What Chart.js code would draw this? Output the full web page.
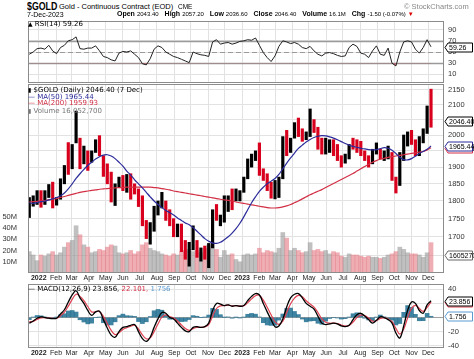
<!DOCTYPE html>
<html>
<head>
<meta charset="utf-8">
<script src="https://cdn.jsdelivr.net/npm/chart.js@4.4.0/dist/chart.umd.min.js"></script>
<style>
html, body { margin: 0; padding: 0; background: #fff; }
body { width: 474px; height: 359px; position: relative; overflow: hidden; font-family: "Liberation Sans", Arial, sans-serif; color: #000; }
canvas { position: absolute; left: 0; }
.t { position: absolute; white-space: nowrap; }
.lg { position: absolute; white-space: nowrap; font: 7px "DejaVu Sans"; line-height: 8px; }
.hd b { font-size: 7px; margin-left: 6px; }
.hd span { font-size: 6px; margin-left: 2px; }
</style>
</head>
<body>
<canvas id="rsi" width="474" height="64" style="top:20px"></canvas>
<canvas id="price" width="474" height="200" style="top:84px"></canvas>
<canvas id="macd" width="474" height="75" style="top:284px"></canvas>

<div class="t" style="left:27px;top:1px;font-weight:bold;font-size:11px;line-height:11px;transform:scaleX(0.8);transform-origin:0 0">$GOLD</div>
<div class="t" style="left:59px;top:3px;font-size:7.5px;line-height:7.5px">Gold - Continuous Contract (EOD)</div>
<div class="t" style="left:178px;top:4px;font-size:6.5px;line-height:6.5px">CME</div>
<div class="t" style="left:404px;top:3px;font-size:7.5px;line-height:7.5px;color:#888">&copy; StockCharts.com</div>
<div class="t" style="left:27px;top:11px;font-size:7px;line-height:7px">7-Dec-2023</div>
<div class="t hd" style="left:111px;top:9px;font-size:8px;line-height:10px"><b>Open</b><span>2043.40</span><b>High</b><span>2057.20</span><b>Low</b><span>2036.60</span><b>Close</b><span>2046.40</span><b>Volume</b><span>16.1M</span><b>Chg</b><span>-1.50 (-0.07%)</span><span style="color:#d00">&#9660;</span></div>

<div class="lg" style="left:28px;top:20px"><b style="font-size:6px">&#9650;</b> RSI(14) 59.26</div>
<div class="lg" style="left:28px;top:86px"><b style="font-size:6px">&#9646;</b> $GOLD (Daily) 2046.40 (7 Dec)</div>
<div class="lg" style="left:28px;top:92.7px;color:#2b2b9a">&#8212; MA(50) 1965.44</div>
<div class="lg" style="left:28px;top:99.3px;color:#d22f45">&#8212; MA(200) 1959.93</div>
<div class="lg" style="left:28px;top:106.7px;color:#777"><b style="font-size:6px">&#9646;</b> Volume 16,052,700</div>
<div class="lg" style="left:28px;top:284.5px">&#8212; MACD(12,26,9) 23.856, <span style="color:#d22f45">22.101,</span> <span style="color:#5a9bd0">1.756</span></div>

<script>
// one bar per week, first week Mon 13-Dec-2021, last week Mon 4-Dec-2023
var firstWeek = Date.UTC(2021, 11, 15);

var highs = [1810,1815,1830,
  1830,1830,1848,1855,1810,1865,1905,1976,1970,2078,
  1990,1965,1950,1950,1985,1998,1935,1910,1885,1850,
  1870,1875,1878,1880,1850,1835,1815,1745,1739,1785,
  1800,1825,1800,1775,1750,1735,1735,1690,1685,1730,
  1690,1670,1675,1682,1775,1790,1760,1815,1815,1835,
  1835,1830,
  1870,1925,1940,1950,1975,1895,1880,1855,1860,1870,
  1995,2015,1990,2040,2055,2020,2010,2085,2050,2025,
  1990,1990,1985,1985,1970,1935,1940,1970,1990,1985,
  1980,1950,1935,1955,1975,1955,1950,1965,1945,1870,
  1945,2000,2010,2015,1985,1995,2020,2095,2152];
var lows = [1753,1785,1790,
  1782,1790,1810,1780,1788,1805,1850,1878,1895,1975,
  1895,1910,1890,1915,1945,1935,1872,1850,1797,1787,
  1840,1830,1825,1805,1820,1784,1730,1695,1680,1715,
  1760,1780,1745,1730,1700,1700,1660,1640,1622,1665,
  1645,1635,1640,1618,1670,1745,1730,1740,1770,1775,
  1800,1800,
  1825,1865,1900,1920,1875,1860,1830,1808,1806,1810,
  1865,1935,1945,1990,1995,1980,1985,1995,2008,1955,
  1940,1940,1945,1935,1920,1900,1912,1925,1955,1945,
  1935,1920,1900,1910,1940,1925,1920,1925,1860,1823,
  1845,1920,1965,1970,1935,1935,1975,2005,2025];
var closes = [1798,1809,1828,
  1797,1817,1832,1791,1807,1842,1899,1889,1966,1985,
  1921,1954,1925,1945,1974,1931,1911,1882,1808,1842,
  1851,1850,1871,1840,1830,1801,1742,1703,1727,1781,
  1791,1815,1761,1749,1721,1728,1678,1655,1672,1700,
  1650,1656,1645,1681,1771,1754,1754,1809,1810,1800,
  1805,1826,
  1869,1921,1928,1930,1876,1875,1842,1818,1855,1868,
  1989,1983,1986,2011,2007,1990,1999,2025,2019,1981,
  1945,1970,1977,1970,1932,1929,1933,1964,1962,1960,
  1942,1923,1915,1945,1953,1942,1945,1945,1866,1845,
  1941,1994,2006,1999,1938,1985,2003,2089,2046.4];
// daily volume, millions (weekly reading)
var volumes = [19,16,11,
  16,15,17,19,16,18,23,27,29,42,
  34,25,23,18,19,21,20,23,25,24,
  18,17,18,20,17,19,25,27,22,20,
  19,17,16,15,17,16,19,20,21,19,
  20,18,22,25,27,21,14,20,16,17,
  12,10,
  16,17,16,17,22,18,20,19,18,22,
  36,31,20,22,20,18,19,27,20,21,
  19,20,17,19,18,15,14,17,16,16,
  15,14,15,14,14,13,14,16,17,19,
  23,21,18,17,17,16,14,18,27];
var ma50 = [1795,1793,1795,
  1798,1800,1803,1806,1810,1815,1823,1835,1850,1866,
  1880,1893,1905,1915,1925,1932,1937,1938,1934,1926,
  1915,1903,1888,1876,1862,1850,1838,1825,1812,1800,
  1790,1781,1773,1767,1760,1752,1745,1738,1733,1725,
  1715,1705,1695,1688,1683,1682,1685,1692,1700,1710,
  1722,1737,1755,1775,1795,1812,1828,1840,1850,1858,
  1866,1878,1895,1912,1928,1943,1958,1968,1978,1986,
  1992,1996,1998,1997,1994,1990,1985,1979,1973,1968,
  1964,1961,1958,1956,1954,1953,1954,1957,1960,1958,
  1952,1942,1930,1923,1922,1926,1933,1942,1948,1955,
  1965.44];
var ma200 = [1797,1798,1799,
  1800,1801,1803,1805,1807,1810,1813,1816,1819,1822,
  1825,1827,1829,1831,1832,1834,1835,1836,1837,1838,
  1839,1839,1840,1840,1840,1840,1840,1840,1840,1839,
  1838,1836,1834,1832,1829,1827,1825,1823,1821,1819,
  1817,1815,1813,1811,1809,1807,1805,1803,1802,1800,
  1797,1795,1793,1791,1789,1787,1785,1783,1781,1780,
  1780,1781,1783,1786,1790,1795,1800,1806,1812,1818,
  1823,1828,1833,1839,1845,1851,1857,1863,1869,1875,
  1881,1888,1895,1902,1909,1915,1920,1924,1927,1930,
  1932,1934,1936,1938,1940,1942,1944,1946,1948,1953,
  1959.93];
var rsi = [46,50,56,57,55,62,52,47,58,62,
  70,72,77,56,55,57,57,61,52,42,
  40,36,34,48,51,50,52,46,40,29,
  27,38,55,61,58,50,46,42,40,37,
  34,31,50,47,45,44,42,68,72,64,
  66,67,64,66,69,70,72,71,75,62,
  49,40,33,43,60,70,68,65,67,64,
  58,56,60,52,46,43,48,49,47,44,
  42,43,58,64,60,48,46,40,52,61,
  46,44,57,30,25,50,68,70,68,55,
  48,58,72,59.26];
var macd = [-8,-5,-1,1,0,-1,-1.5,-1,5,11,
  22,32,38,28,20,10,3,8,9,-3,
  -15,-25,-28,-20,-14,-13,-11,-10,-20,-30,
  -34,-28,-14,-2,7,6,0,-2,-8,-14,
  -19,-20,-14,-13,-14,-13,-8,10,20,19,
  17,18,16,17,16,17,24,30,34,32,
  20,8,-3,-13,-12,-2,15,28,33,34,
  28,20,16,12,2,-8,-10,-9,-8,-9,
  -12,-13,-11,-3,4,6,2,-3,-8,-4,
  1,0,-3,-8,-22,-29,-12,10,22,20,
  10,6,18,23.856];
var signal = [-6,-5.4,-2.8,-0.5,-0.2,-0.7,-1.2,-1.1,2.6,7.6,
  16.2,25.7,33.1,30,24,15.6,8,8,8.6,1.6,
  -8.4,-18.4,-24.2,-21.7,-17,-14.6,-12.4,-11,-16.4,-24.6,
  -30.2,-28.9,-20,-9.2,0.5,3.8,1.5,-0.6,-5,-10.4,
  -15.6,-18.2,-15.7,-14.1,-14,-13.4,-10.2,1.9,12.8,16.5,
  16.8,17.5,16.6,16.8,16.3,16.7,21.1,26.4,31,31.6,
  24.6,14.6,4,-6.2,-9.7,-5.1,7,19.6,27.6,31.4,
  29.4,23.8,19.1,14.8,7.1,-2,-6.8,-8.1,-8,-8.6,
  -10.6,-12,-11.4,-6.4,-0.2,3.5,2.6,-0.8,-5.1,-4.4,
  -1.2,-0.5,-2,-5.6,-15.4,-23.6,-16.6,-0.6,13,17.2,
  12.9,8.8,14.3,22.101];
var hist = [-3,0.6,2.9,2.4,0.3,-0.5,-0.5,0.2,3.8,5.4,
  9.3,10,7.8,-3.2,-6.4,-9,-8,0,0.6,-7.4,
  -10.6,-10.6,-6.1,2.7,4.8,2.6,2.2,1.6,-5.8,-8.6,
  -6.1,1.4,9.6,11.5,10.4,3.5,-2.4,-2.2,-4.8,-5.8,
  -5.4,-2.9,2.7,1.8,0,0.6,3.5,13,11.5,4,
  0.3,0.8,-1,0.3,-0.5,0.5,4.6,5.8,4.8,0.6,
  -7.4,-10.6,-11.2,-10.9,-3.7,5,12.8,13.4,8.6,4.2,
  -2.2,-6.1,-5,-4.5,-8.2,-9.6,-5.1,-1.4,0,-0.6,
  -2.2,-1.6,0.6,5.4,6.7,4,-1,-3.5,-4.6,0.6,
  3.5,0.8,-1.6,-3.8,-10.6,-8.6,7.4,17,14.4,4.5,
  -4.6,-4.5,5.9,1.756];

var monthLabels = ['2022','Feb','Mar','Apr','May','Jun','Jul','Aug','Sep','Oct','Nov','Dec',
  '2023','Feb','Mar','Apr','May','Jun','Jul','Aug','Sep','Oct','Nov','Dec'];
var priceTicks = [1650,1700,1750,1800,1850,1900,1950,2000,2050,2100,2150];
var volTicks = [10,20,30,40,50];
var rsiTicks = [10,30,50,70,90];
var macdTicks = [-40,-20,0,20,40];

// month gridlines in week units
var monthPos = monthLabels.map(function(l, i) {
  return (Date.UTC(2022, i, 1) - firstWeek) / (7 * 864e5);
});

function pts(arr) {
  return arr.map(function(v, i) { return {x: i, y: v}; });
}

var axisFont = {family: 'Liberation Sans', size: 7.5};
var gridColor = '#e2e2e2';

function xAxis(showLabels) {
  return {
    type: 'linear', min: -0.33, max: 106.33, offset: false,
    grid: {color: gridColor, drawTicks: false, offset: false},
    border: {display: false},
    afterBuildTicks: function(s) { s.ticks = monthPos.map(function(p) { return {value: p}; }); },
    afterFit: function(s) { s.height = showLabels ? 11 : 0; s.paddingLeft = 0; s.paddingRight = 0; },
    ticks: {
      display: showLabels, autoSkip: false, maxRotation: 0, padding: 1, color: '#222',
      font: function(c) {
        var yr = c.index === 0 || c.index === 12;
        return {family: 'Liberation Sans', size: 7, weight: yr ? 'bold' : 'normal'};
      },
      callback: function(v, i) { return monthLabels[i]; }
    }
  };
}

function yAxis(min, max, ticks, extra) {
  var ax = {
    type: 'linear', position: 'right', min: min, max: max, beginAtZero: false,
    grid: {color: gridColor, drawTicks: false},
    border: {display: false},
    afterBuildTicks: function(s) { s.ticks = ticks.map(function(v) { return {value: v}; }); },
    afterFit: function(s) { s.width = 30; s.paddingTop = 0; s.paddingBottom = 0; },
    ticks: {padding: 4, color: '#333', font: axisFont, callback: function(v) { return String(v); }}
  };
  return Object.assign(ax, extra || {});
}

var framePlugin = {
  id: 'frame',
  afterDraw: function(chart) {
    var a = chart.chartArea, c = chart.ctx;
    c.save();
    c.strokeStyle = '#8c8c8c';
    c.lineWidth = 1;
    c.strokeRect(a.left + 0.5, a.top + 0.5, a.right - a.left - 1, a.bottom - a.top - 1);
    c.restore();
  }
};

// boxed last-value markers on the right axis
function tagPlugin(tags) {
  return {
    id: 'tags',
    afterDraw: function(chart) {
      var c = chart.ctx, a = chart.chartArea;
      tags.forEach(function(t) {
        var y = Math.round(chart.scales[t.axis].getPixelForValue(t.value)) + 0.5;
        var x0 = a.right + 1, x1 = chart.width - 1.5, h = 9;
        c.save();
        c.beginPath();
        c.moveTo(x0, y);
        c.lineTo(x0 + 3, y - h / 2);
        c.lineTo(x1, y - h / 2);
        c.lineTo(x1, y + h / 2);
        c.lineTo(x0 + 3, y + h / 2);
        c.closePath();
        c.fillStyle = '#fff';
        c.fill();
        c.strokeStyle = t.color;
        c.lineWidth = 1;
        c.stroke();
        c.fillStyle = '#000';
        c.font = '7px "Liberation Sans"';
        c.textBaseline = 'middle';
        c.fillText(t.text, x0 + 4, y + 0.5);
        c.restore();
      });
    }
  };
}

var rsiGuides = {
  id: 'rsiGuides',
  beforeDatasetsDraw: function(chart) {
    var c = chart.ctx, a = chart.chartArea, s = chart.scales.y;
    c.save();
    c.strokeStyle = '#9a9a9a';
    [[70, 1.5, []], [30, 1.5, []], [50, 1, [5, 3]]].forEach(function(g) {
      var y = Math.round(s.getPixelForValue(g[0])) + 0.5;
      c.lineWidth = g[1];
      c.setLineDash(g[2]);
      c.beginPath();
      c.moveTo(a.left, y);
      c.lineTo(a.right, y);
      c.stroke();
    });
    c.restore();
  }
};

var common = {
  responsive: false, animation: false, events: [],
  plugins: {legend: {display: false}, tooltip: {enabled: false}}
};

// RSI panel
new Chart(document.getElementById('rsi'), {
  type: 'line',
  data: {datasets: [{
    label: 'RSI(14)', data: pts(rsi), borderColor: '#222', borderWidth: 1, pointRadius: 0, tension: 0,
    fill: {target: {value: 30}, above: 'rgba(0,0,0,0)', below: 'rgba(210,40,50,0.6)'}
  }]},
  options: Object.assign({}, common, {
    layout: {padding: {left: 28, right: 0, top: 1, bottom: 1}},
    scales: {x: xAxis(false), y: yAxis(-5.4, 105.4, rsiTicks)}
  }),
  plugins: [rsiGuides, framePlugin, tagPlugin([{axis: 'y', value: 59.26, text: '59.26', color: '#000'}])]
});

// price + volume panel
new Chart(document.getElementById('price'), {
  type: 'bar',
  data: {datasets: [
    {type: 'line', label: 'MA(50)', data: pts(ma50), yAxisID: 'yP', borderColor: '#2b2b9a', borderWidth: 1.2, pointRadius: 0, tension: 0.35, order: 1},
    {type: 'line', label: 'MA(200)', data: pts(ma200), yAxisID: 'yP', borderColor: '#d22f45', borderWidth: 1.2, pointRadius: 0, tension: 0.35, order: 2},
    {label: '$GOLD', yAxisID: 'yP', order: 3, grouped: false, barThickness: 2.5,
      data: highs.map(function(h, i) { return {x: i, y: [lows[i], h]}; }),
      backgroundColor: closes.map(function(c, i) { return i > 0 && c < closes[i - 1] ? '#d8001c' : '#000'; })},
    {label: 'Volume', yAxisID: 'yV', order: 4, grouped: false, barThickness: 4,
      data: pts(volumes),
      backgroundColor: closes.map(function(c, i) { return i > 0 && c < closes[i - 1] ? 'rgba(228,120,130,0.6)' : 'rgba(150,150,150,0.6)'; })}
  ]},
  options: Object.assign({}, common, {
    layout: {padding: 0},
    scales: {
      x: xAxis(true),
      yP: yAxis(1604.4, 2169.8, priceTicks, {type: 'logarithmic', bounds: 'data'}),
      yV: {
        type: 'linear', position: 'left', min: 0, max: 168,
        grid: {display: false}, border: {display: false},
        afterBuildTicks: function(s) { s.ticks = volTicks.map(function(v) { return {value: v}; }); },
        afterFit: function(s) { s.width = 28; s.paddingTop = 0; s.paddingBottom = 0; },
        ticks: {padding: 3, color: '#333', font: axisFont, callback: function(v) { return v + 'M'; }}
      }
    }
  }),
  plugins: [framePlugin, tagPlugin([
    {axis: 'yP', value: 2046.4, text: '2046.40', color: '#000'},
    {axis: 'yP', value: 1959.93, text: '1959.93', color: '#d22f45'},
    {axis: 'yP', value: 1965.44, text: '1965.44', color: '#2b2b9a'},
    {axis: 'yV', value: 16.05, text: '16052700', color: '#666'}
  ])]
});

// MACD panel
new Chart(document.getElementById('macd'), {
  type: 'bar',
  data: {datasets: [
    {type: 'line', label: 'MACD', data: pts(macd), borderColor: '#000', borderWidth: 1.3, pointRadius: 0, tension: 0.4, order: 1},
    {type: 'line', label: 'Signal', data: pts(signal), borderColor: '#e0404f', borderWidth: 1.2, pointRadius: 0, tension: 0.4, order: 2},
    {label: 'Histogram', data: pts(hist), backgroundColor: 'rgba(30,110,145,0.85)', barThickness: 4, grouped: false, order: 3}
  ]},
  options: Object.assign({}, common, {
    layout: {padding: {left: 28, right: 0, top: 0, bottom: 0}},
    scales: {
      x: xAxis(true),
      y: yAxis(-43.3, 47.6, macdTicks, {
        grid: {drawTicks: false, color: function(c) { return c.tick && c.tick.value === 0 ? '#a0a0a0' : gridColor; }}
      })
    }
  }),
  plugins: [framePlugin, tagPlugin([
    {axis: 'y', value: 22.101, text: '22.101', color: '#e0404f'},
    {axis: 'y', value: 23.856, text: '23.856', color: '#000'},
    {axis: 'y', value: 1.756, text: '1.756', color: '#5a9bd0'}
  ])]
});
</script>
</body>
</html>
